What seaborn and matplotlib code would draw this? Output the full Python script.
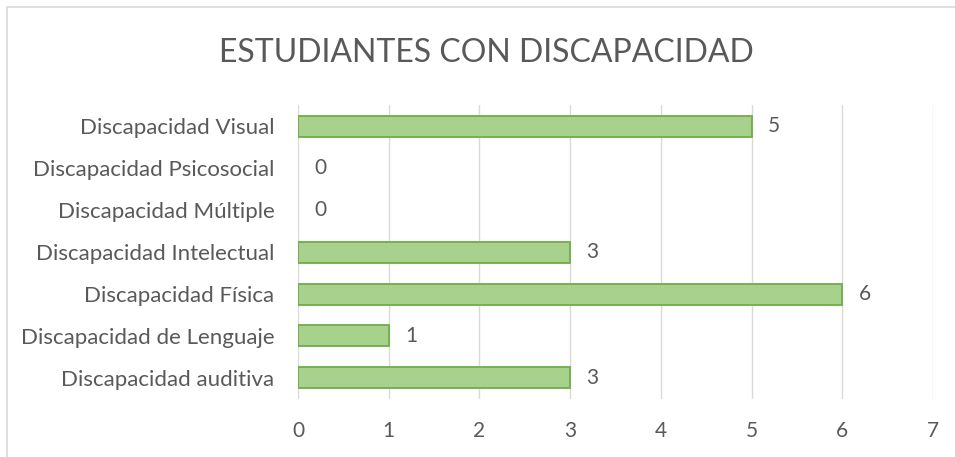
import matplotlib
matplotlib.use("Agg")
import matplotlib.pyplot as plt
import matplotlib.patches as mpatches
import seaborn as sns
import pandas as pd

# data (top to bottom as shown)
categorias = ["Discapacidad Visual", "Discapacidad Psicosocial", "Discapacidad Múltiple",
              "Discapacidad Intelectual", "Discapacidad Física",
              "Discapacidad de Lenguaje", "Discapacidad auditiva"]
estudiantes = [5, 0, 0, 3, 6, 1, 3]
ticks_x = [0, 1, 2, 3, 4, 5, 6, 7]

df = pd.DataFrame({"categoria": categorias, "n": estudiantes})

sns.set_style("white")
plt.rcParams["font.family"] = ["Lato", "DejaVu Sans"]
gris = "#595959"

fig = plt.figure(figsize=(9.55, 4.57), dpi=100)
ax = fig.add_axes([0.312, 0.127, 0.665, 0.643])

sns.barplot(data=df, x="n", y="categoria", order=categorias, orient="h",
            color="#A9D18E", edgecolor="#70AD47", linewidth=1.3, width=0.5,
            saturation=1, ax=ax)
# no outline for empty bars
for p in ax.patches:
    if p.get_width() == 0:
        p.set_linewidth(0)

for i, v in enumerate(estudiantes):
    ax.text(v + 0.18, i, str(v), va="center", ha="left", fontsize=15, color=gris)

ax.set_xlim(0, 7)
ax.set_xticks(ticks_x)
ax.set_ylim(6.5, -0.5)
ax.grid(axis="x", color="#d9d9d9", linewidth=1)
ax.set_axisbelow(True)
for s in ax.spines.values():
    s.set_visible(False)
ax.tick_params(axis="both", length=0, labelcolor=gris)
ax.tick_params(axis="x", pad=16, labelsize=15)
ax.tick_params(axis="y", pad=17, labelsize=16)
ax.set_xlabel("")
ax.set_ylabel("")

fig.text(0.509, 0.885, "ESTUDIANTES CON DISCAPACIDAD", ha="center", va="center",
         fontsize=23, color=gris)

fig.patches.append(mpatches.Rectangle((7 / 955, -0.1), 2, 1.1 - 7 / 457,
                                      transform=fig.transFigure, fill=False,
                                      edgecolor="#d9d9d9", linewidth=1.2))

fig.savefig("out.png", dpi=100)
